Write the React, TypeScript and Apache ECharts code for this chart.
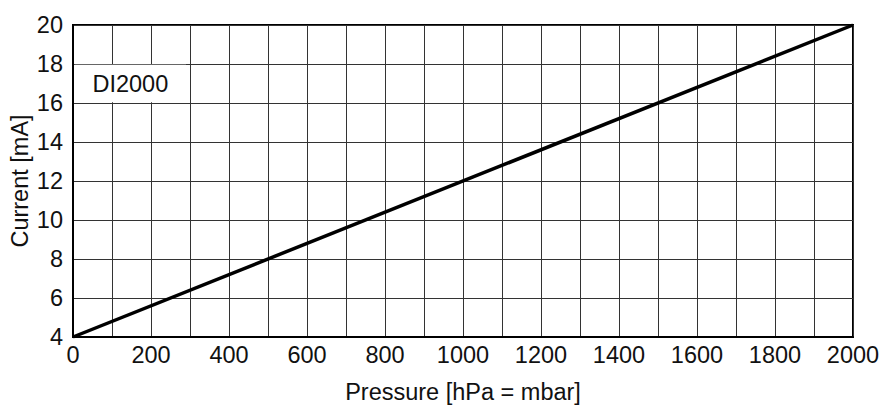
import React, { useEffect, useRef } from "react";
import * as echarts from "echarts";

const pressure = [0, 2000];
const current = [4, 20];
const xTicks = [0, 200, 400, 600, 800, 1000, 1200, 1400, 1600, 1800, 2000];
const yTicks = [4, 6, 8, 10, 12, 14, 16, 18, 20];
const labelText = "DI2000";
const labelBox = { x0: 4, x1: 290, y0: 17.96, y1: 16.04 };

export default function App() {
  const ref = useRef<HTMLDivElement>(null);
  useEffect(() => {
    if (!ref.current) return;
    const chart = echarts.init(ref.current, null, { renderer: "svg" });
    const font = "Liberation Sans, Arial, sans-serif";
    const fs = 23.5;
    chart.setOption({
      animation: false,
      backgroundColor: "#ffffff",
      grid: {
        left: 73,
        right: 27,
        top: 25,
        bottom: 71,
        show: true,
        borderColor: "#000",
        borderWidth: 2,
        outerBoundsMode: "none",
      },
      xAxis: {
        type: "value",
        min: 0,
        max: 2000,
        interval: 100,
        name: "Pressure [hPa = mbar]",
        nameLocation: "middle",
        nameGap: 43,
        nameMoveOverlap: false,
        nameTextStyle: { fontFamily: font, fontSize: fs, color: "#111" },
        axisLine: { show: true, lineStyle: { color: "#000", width: 2 } },
        axisTick: { show: false },
        axisLabel: {
          fontFamily: font,
          fontSize: fs,
          color: "#111",
          margin: 6,
          hideOverlap: false,
          formatter: (v: number) => (xTicks.includes(v) ? String(v) : ""),
        },
        splitLine: { show: true, lineStyle: { color: "#333", width: 1 } },
      },
      yAxis: {
        type: "value",
        min: 4,
        max: 20,
        interval: 2,
        name: "Current [mA]",
        nameLocation: "middle",
        nameGap: 41,
        nameMoveOverlap: false,
        nameTextStyle: { fontFamily: font, fontSize: fs, color: "#111" },
        axisLine: { show: true, lineStyle: { color: "#000", width: 2 } },
        axisTick: { show: false },
        axisLabel: {
          fontFamily: font,
          fontSize: fs,
          color: "#111",
          margin: 10,
          formatter: (v: number) => (yTicks.includes(v) ? String(v) : ""),
        },
        splitLine: { show: true, lineStyle: { color: "#333", width: 1 } },
      },
      series: [
        {
          type: "line",
          data: pressure.map((p, i) => [p, current[i]]),
          symbol: "none",
          lineStyle: { color: "#000", width: 3.5 },
          markArea: {
            silent: true,
            itemStyle: { color: "#fff" },
            label: {
              show: true,
              position: "inside",
              fontFamily: font,
              fontSize: fs,
              color: "#111",
            },
            data: [
              [
                { name: labelText, coord: [labelBox.x0, labelBox.y0] },
                { coord: [labelBox.x1, labelBox.y1] },
              ],
            ],
          },
        },
      ],
    });
    return () => chart.dispose();
  }, []);
  return (
    <div
      ref={ref}
      style={{ position: "fixed", left: 0, top: 0, width: 880, height: 408 }}
    />
  );
}
